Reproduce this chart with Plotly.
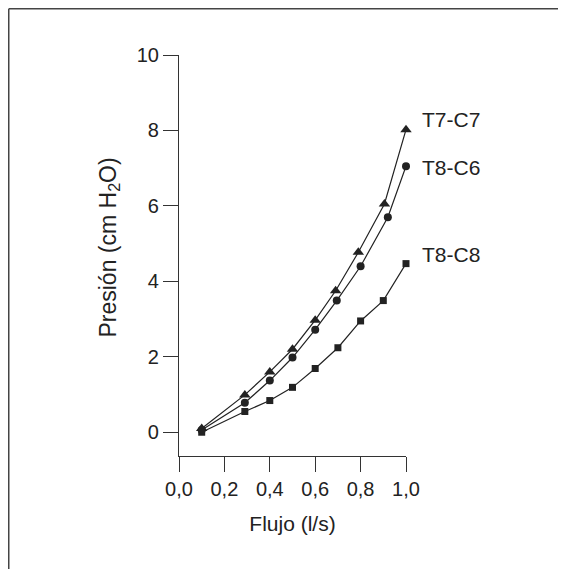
import plotly.graph_objects as go

# Data
flow_t7c7 = [0.10, 0.29, 0.40, 0.50, 0.60, 0.69, 0.79, 0.905, 1.00]
pres_t7c7 = [0.10, 0.99, 1.60, 2.20, 2.97, 3.75, 4.77, 6.05, 8.02]

flow_t8c6 = [0.10, 0.29, 0.40, 0.50, 0.60, 0.695, 0.80, 0.92, 1.00]
pres_t8c6 = [0.06, 0.78, 1.37, 1.98, 2.72, 3.49, 4.40, 5.70, 7.05]

flow_t8c8 = [0.10, 0.29, 0.40, 0.50, 0.60, 0.70, 0.80, 0.90, 1.00]
pres_t8c8 = [0.00, 0.55, 0.84, 1.19, 1.69, 2.24, 2.95, 3.49, 4.47]

series_names = ["T7-C7", "T8-C6", "T8-C8"]
label_y = [8.29, 7.02, 4.72]
x_ticks = [0.0, 0.2, 0.4, 0.6, 0.8, 1.0]
x_ticktext = ["0,0", "0,2", "0,4", "0,6", "0,8", "1,0"]
y_ticks = [0, 2, 4, 6, 8, 10]

# page has an 8px body margin, so the figure is drawn offset by (8, 8)
W, H = 558, 561
ml, mt = 171, 47
pw, ph = 227, 401
mr, mb = W - ml - pw, H - mt - ph

FONT = "Liberation Sans, Arial, Helvetica, sans-serif"
INK = "#222222"

fig = go.Figure()
series = [
    (flow_t7c7, pres_t7c7, "triangle-up", 10),
    (flow_t8c6, pres_t8c6, "circle", 8),
    (flow_t8c8, pres_t8c8, "square", 7),
]
for (xs, ys, sym, sz), name in zip(series, series_names):
    fig.add_trace(go.Scatter(
        x=xs, y=ys, mode="lines+markers", name=name,
        line=dict(color=INK, width=1.2),
        marker=dict(symbol=sym, size=sz, color=INK, line=dict(width=0)),
        cliponaxis=False, showlegend=False,
    ))

for name, ly in zip(series_names, label_y):
    fig.add_annotation(x=1.063, y=ly, xref="paper", yref="y", text=name,
                       showarrow=False, xanchor="left", yanchor="middle",
                       font=dict(family=FONT, size=21, color=INK))

# y-axis title as a rotated annotation (sits slightly above the plot centre)
fig.add_annotation(x=-0.308, y=0.52, xref="paper", yref="paper",
                   text="Presión (cm H<sub>2</sub>O)", textangle=-90,
                   showarrow=False, xanchor="center", yanchor="middle",
                   font=dict(family=FONT, size=23, color=INK))

# outer frame (top and left lines)
x_left = (0.75 - ml) / pw
x_right = (W - ml) / pw
y_top = (H - mb - 0.75) / ph
fig.add_shape(type="line", xref="paper", yref="paper", x0=x_left, x1=x_right,
              y0=y_top, y1=y_top, line=dict(color="#444444", width=1.5))
fig.add_shape(type="line", xref="paper", yref="paper", x0=x_left, x1=x_left,
              y0=y_top, y1=-1.0, line=dict(color="#444444", width=1.5))

fig.update_layout(
    width=W, height=H,
    margin=dict(l=ml, r=mr, t=mt, b=mb),
    paper_bgcolor="white", plot_bgcolor="white",
    font=dict(family=FONT, size=20, color=INK),
    xaxis=dict(
        range=[0, 1.0], tickvals=x_ticks, ticktext=x_ticktext,
        showline=True, linecolor="#333333", linewidth=1.2,
        ticks="outside", ticklen=15, tickwidth=1.2, tickcolor="#333333",
        showgrid=False, zeroline=False,
        title=dict(text="Flujo (l/s)", font=dict(size=21), standoff=17),
    ),
    yaxis=dict(
        range=[-0.63, 10], tickvals=y_ticks,
        showline=True, linecolor="#333333", linewidth=1.2,
        ticks="outside", ticklen=15, tickwidth=1.2, tickcolor="#333333",
        showgrid=False, zeroline=False,
    ),
)

fig.write_html("out.html", config={"displayModeBar": False})
